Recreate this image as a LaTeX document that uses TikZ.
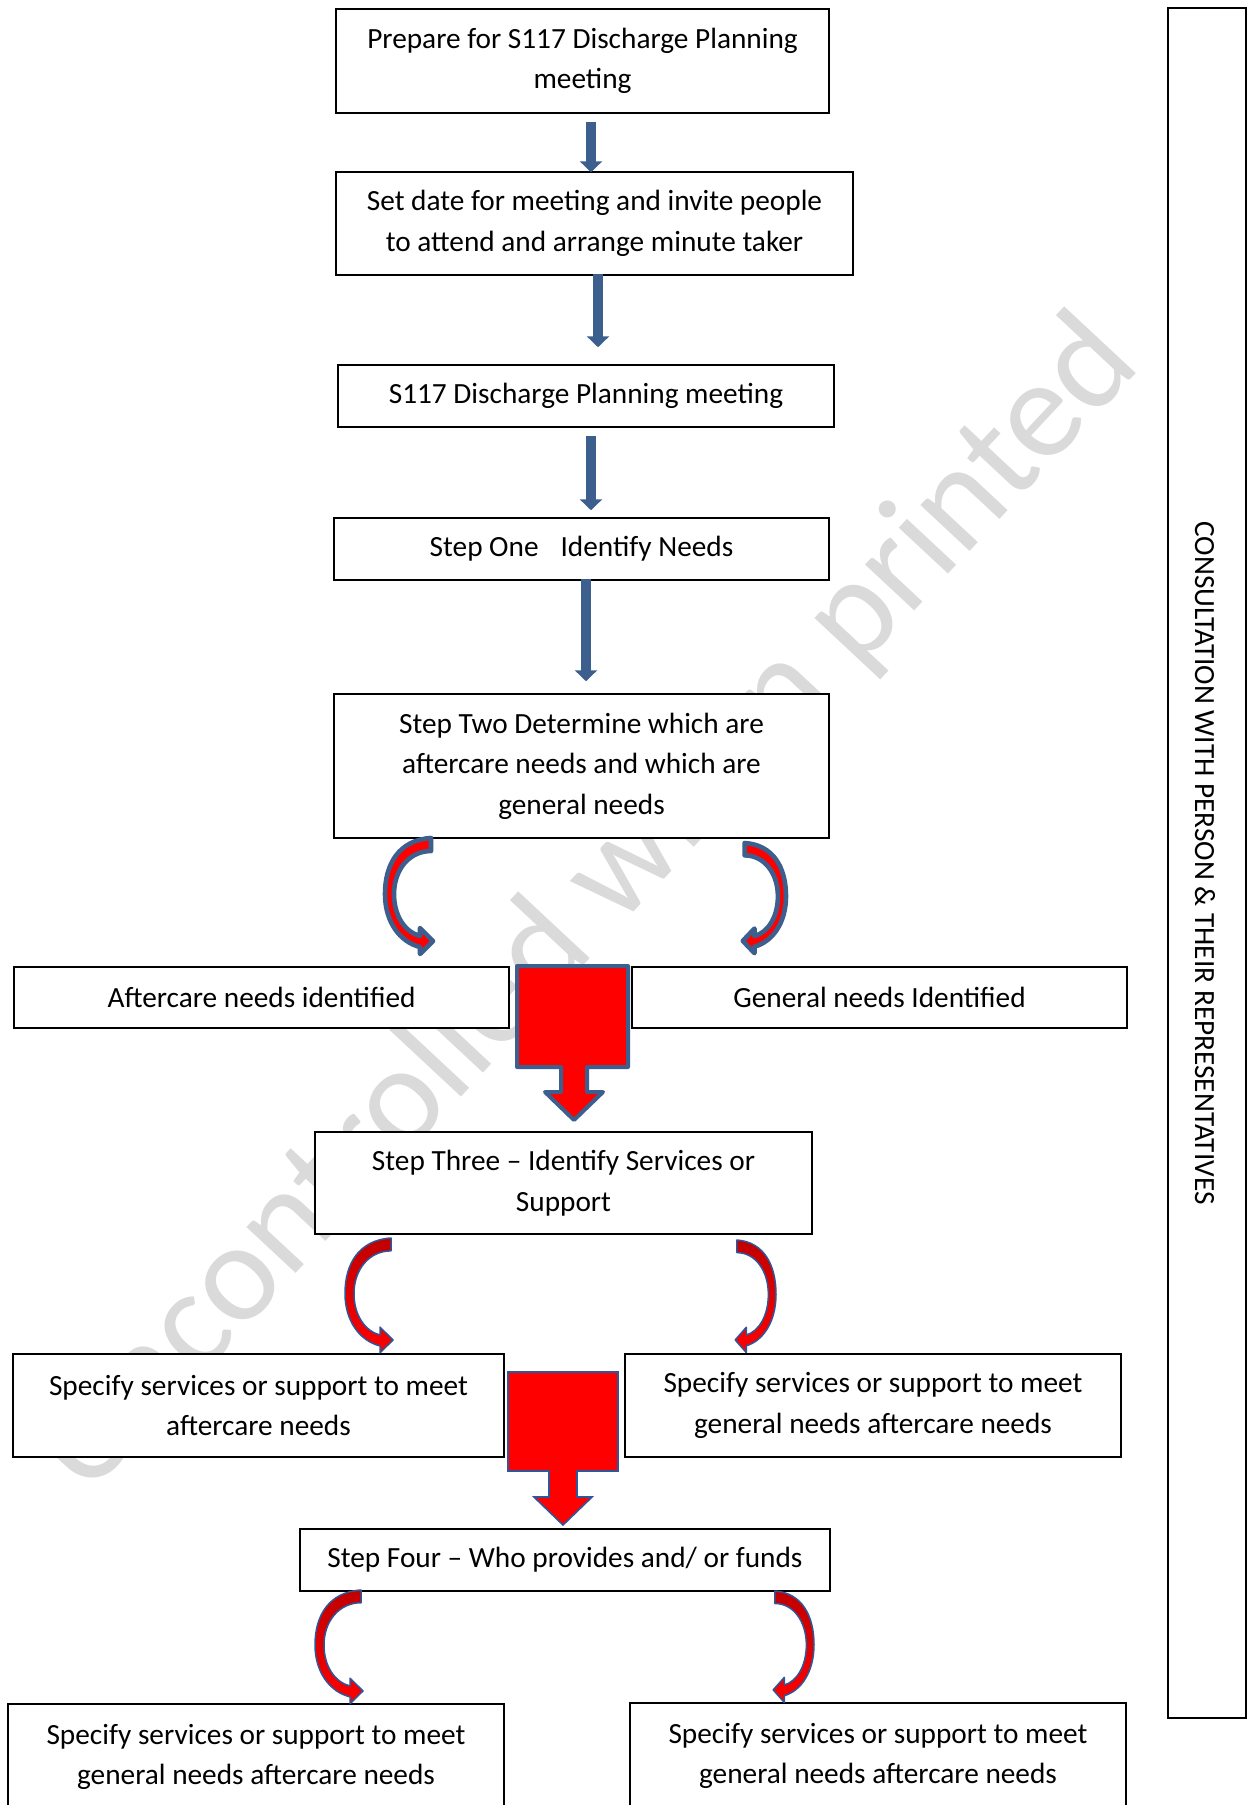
\documentclass[tikz,border=0pt]{standalone}
\usepackage{fontspec}
\setmainfont{Carlito}
\usetikzlibrary{arrows.meta}
\definecolor{arrowblue}{HTML}{3C5F8E}
\definecolor{outblue}{HTML}{2F559A}
\definecolor{wmgray}{HTML}{DADADA}
\definecolor{deepred}{HTML}{C00000}
\newcommand\crvarrow[5]{%
  \begin{scope}[shift={(#2,#3)}, xscale=#4, yscale=#5]
    \path[#1] (46,0) .. controls (14,2) and (0,26) .. (0,56)
      .. controls (0,84) and (15,104) .. (35,109) -- (35,116) -- (48,103) -- (35,90) -- (35,98)
      .. controls (20,94) and (9,78) .. (9,56) .. controls (9,32) and (24,13) .. (46,13) -- cycle;
  \end{scope}}
\begin{document}
\begin{tikzpicture}[x=1pt,y=-1pt,
  box/.style={draw=black, line width=1.5pt, fill=white, inner sep=0pt, align=center,
    font=\fontsize{29.3}{40.5}\selectfont},
  sarrow/.style={draw=arrowblue, line width=10pt, -{Triangle[width=22pt,length=11pt]}},
  cvA/.style={fill=red, draw=arrowblue, line width=4.6pt, line join=round},
  cvB/.style={top color=deepred, bottom color=red, draw=outblue, line width=1.5pt, line join=round},
  blockA/.style={fill=red, draw=arrowblue, line width=4pt, line join=round},
  blockB/.style={fill=red, draw=outblue, line width=1.6pt},
  wmark/.style={rotate=47, text=wmgray, font=\fontsize{141}{141}\selectfont, anchor=base, inner sep=0pt}]
\useasboundingbox (0,0) rectangle (1247,1805);
\clip (0,0) rectangle (1247,1805);
\fill[white] (0,0) rectangle (1247,1805);

% watermark
\node[wmark] (wm) at (615,932) {Uncontrolled when printed};

% boxes
\node[box, minimum width=493pt, minimum height=104pt] (b1) at (582.5,61) {Prepare for S117 Discharge Planning\\meeting};
\node[box, minimum width=517pt, minimum height=103pt] (b2) at (594.5,223.5) {Set date for meeting and invite people\\to attend and arrange minute taker};
\node[box, minimum width=496pt, minimum height=62pt] (b3) at (586,396) {S117 Discharge Planning meeting};
\node[box, minimum width=495pt, minimum height=62pt] (b4) at (581.5,549) {Step One\hspace{22pt}Identify Needs};
\node[box, minimum width=495pt, minimum height=144pt] (b5) at (581.5,766) {Step Two Determine which are\\aftercare needs and which are\\general needs};
\node[box, minimum width=495pt, minimum height=61pt] (b6) at (261.5,997.5) {Aftercare needs identified};
\node[box, minimum width=495pt, minimum height=61pt] (b7) at (879.5,997.5) {General needs Identified};
\node[box, minimum width=497pt, minimum height=102pt] (b8) at (563.5,1183) {Step Three -- Identify Services or\\Support};
\node[box, minimum width=491pt, minimum height=103pt] (b9) at (258.5,1405.5) {Specify services or support to meet\\aftercare needs};
\node[box, minimum width=496pt, minimum height=103pt] (b10) at (873,1405.5) {Specify services or support to meet\\general needs aftercare needs};
\node[box, minimum width=530pt, minimum height=62pt] (b11) at (565,1560) {Step Four -- Who provides and/ or funds};
\node[box, minimum width=496pt, minimum height=106pt] (b12) at (256,1757) {Specify services or support to meet\\general needs aftercare needs};
\node[box, minimum width=496pt, minimum height=106pt] (b13) at (878,1756) {Specify services or support to meet\\general needs aftercare needs};

% side box
\node[draw=black, fill=white, line width=1.5pt, minimum width=78pt, minimum height=1710pt, inner sep=0pt] (side) at (1207,863) {};
\node[rotate=-90, font=\fontsize{29.3}{40.5}\selectfont, inner sep=0pt] (sidetext) at (1205,863) {CONSULTATION WITH PERSON \& THEIR REPRESENTATIVES};

% straight arrows
\draw[sarrow] ([xshift=8.5pt,yshift=-8pt]b1.south) -- ([xshift=-3.5pt,yshift=-1pt]b2.north);
\draw[sarrow] ([xshift=3.5pt,yshift=2pt]b2.south) -- ([xshift=12pt,yshift=17pt]b3.north);
\draw[sarrow] ([xshift=5pt,yshift=-8pt]b3.south) -- ([xshift=9.5pt,yshift=7pt]b4.north);
\draw[sarrow] ([xshift=4.5pt,yshift=2pt]b4.south) -- ([xshift=4.5pt,yshift=12pt]b5.north);

% curved arrows
\crvarrow{cvA}{385}{838}{1}{1}
\crvarrow{cvA}{786}{843}{-0.9}{0.95}
\crvarrow{cvB}{345}{1238}{1}{0.99}
\crvarrow{cvB}{776}{1240}{-0.85}{0.97}
\crvarrow{cvB}{315}{1590}{1}{0.98}
\crvarrow{cvB}{814}{1591}{-0.85}{0.96}

% block arrows
\path[blockA] (517,966) -- (628,966) -- (628,1067) -- (587,1067) -- (587,1092) -- (603,1092)
  -- (574,1120) -- (545,1092) -- (561,1092) -- (561,1067) -- (517,1067) -- cycle;
\path[blockB] (508,1372) -- (618,1372) -- (618,1471) -- (577,1471) -- (577,1497) -- (592,1497)
  -- (563,1525) -- (534,1497) -- (549,1497) -- (549,1471) -- (508,1471) -- cycle;
\end{tikzpicture}
\end{document}
